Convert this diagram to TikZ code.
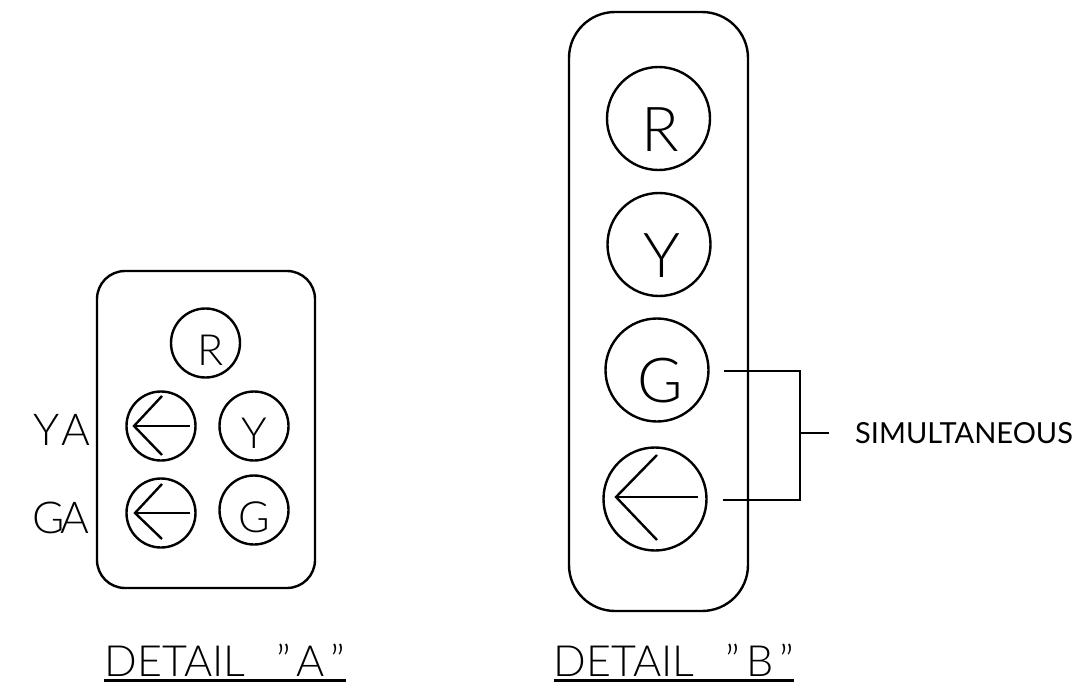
\documentclass[tikz,border=0pt]{standalone}
\usepackage{fontspec}
\setmainfont{Lato}[UprightFont=* Light]
\newfontfamily\simfont{Lato}
\usetikzlibrary{positioning}

\begin{document}
\begin{tikzpicture}[x=1pt,y=-1pt]
	\tikzset{housing/.style={draw,line width=2.4pt,rounded corners=#1}}
	\tikzset{lampa/.style={draw,circle,line width=2.4pt,inner sep=0pt,minimum size=69pt,text height=44pt,text depth=0pt,font=\fontsize{43}{43}\selectfont}}
	\tikzset{lampb/.style={draw,circle,line width=2.4pt,inner sep=0pt,minimum size=103pt,text height=65pt,text depth=0pt,font=\fontsize{62}{62}\selectfont}}
	\tikzset{side/.style={inner sep=0pt,anchor=west,font=\fontsize{44}{44}\selectfont\addfontfeature{LetterSpace=#1}}}
	\tikzset{title/.style={inner sep=0pt,font=\fontsize{43}{43}\selectfont}}
	\tikzset{wire/.style={line width=2.4pt}}

	\useasboundingbox (0,0) rectangle (1072,693);

	% detail a
	\draw[housing=28pt] (97,271) rectangle (315,588);
	\node[lampa] (ra) at (205.5,343) {\hspace{10pt}R};
	\node[lampa] (aa) at (161,426) {};
	\node[lampa] (ya) at (254,426) {Y};
	\node[lampa] (ab) at (161,513) {};
	\node[lampa] (ga) at (254,510) {G};
	\draw[wire,line join=miter] ([xshift=1pt,yshift=30pt]aa.center) -- ([xshift=-27pt]aa.center) -- ([xshift=1pt,yshift=-29pt]aa.center);
	\draw[wire] ([xshift=-27pt]aa.center) -- ([xshift=29pt]aa.center);
	\draw[wire,line join=miter] ([xshift=1pt,yshift=29pt]ab.center) -- ([xshift=-26pt]ab.center) -- ([xshift=1pt,yshift=-26pt]ab.center);
	\draw[wire] ([xshift=-26pt]ab.center) -- ([xshift=29pt]ab.center);
	\node[side=12] (lya) at (33,430) {YA};
	\node[side=-8] (lga) at (32,518) {GA};
	\node[title] (deta) at (225,660) {DETAIL\hspace{31pt}"\hspace{6pt}A\hspace{6pt}"};
	\draw[wire] ([yshift=-4pt]deta.south west) -- ([yshift=-4pt]deta.south east);

	% detail b
	\draw[housing=46pt] (569,12) rectangle (748,611);
	\node[lampb] (rb) at (658.5,118.5) {\hspace{4pt}R};
	\node[lampb] (yb) at (659,244.5) {\hspace{6pt}Y};
	\node[lampb] (gb) at (657,370) {\hspace{6pt}G};
	\node[lampb] (ac) at (655,499) {};
	\draw[wire,line join=miter] ([xshift=2pt,yshift=44pt]ac.center) -- ([xshift=-39pt,yshift=2pt]ac.center) -- ([xshift=2pt,yshift=-41pt]ac.center);
	\draw[wire] ([xshift=-39pt,yshift=2pt]ac.center) -- ([xshift=43pt,yshift=2pt]ac.center);
	\coordinate (brt) at (800,371);
	\coordinate (brl) at (800,500);
	\coordinate (brm) at (800,433);
	\node[inner sep=0pt,font=\fontsize{29}{29}\simfont,anchor=west] (sim) at (855,433) {SIMULTANEOUS};
	\draw[wire,line join=miter] ([xshift=14pt,yshift=-1pt]gb.east) -- (brt) -- (brl) -- ([xshift=15pt,yshift=-1pt]ac.east);
	\draw[wire] (brm) -- ([xshift=-26pt]sim.west);
	\node[title] (detb) at (674,660) {DETAIL\hspace{31pt}"\hspace{6pt}B\hspace{6pt}"};
	\draw[wire] ([yshift=-4pt]detb.south west) -- ([yshift=-4pt]detb.south east);
\end{tikzpicture}
\end{document}
